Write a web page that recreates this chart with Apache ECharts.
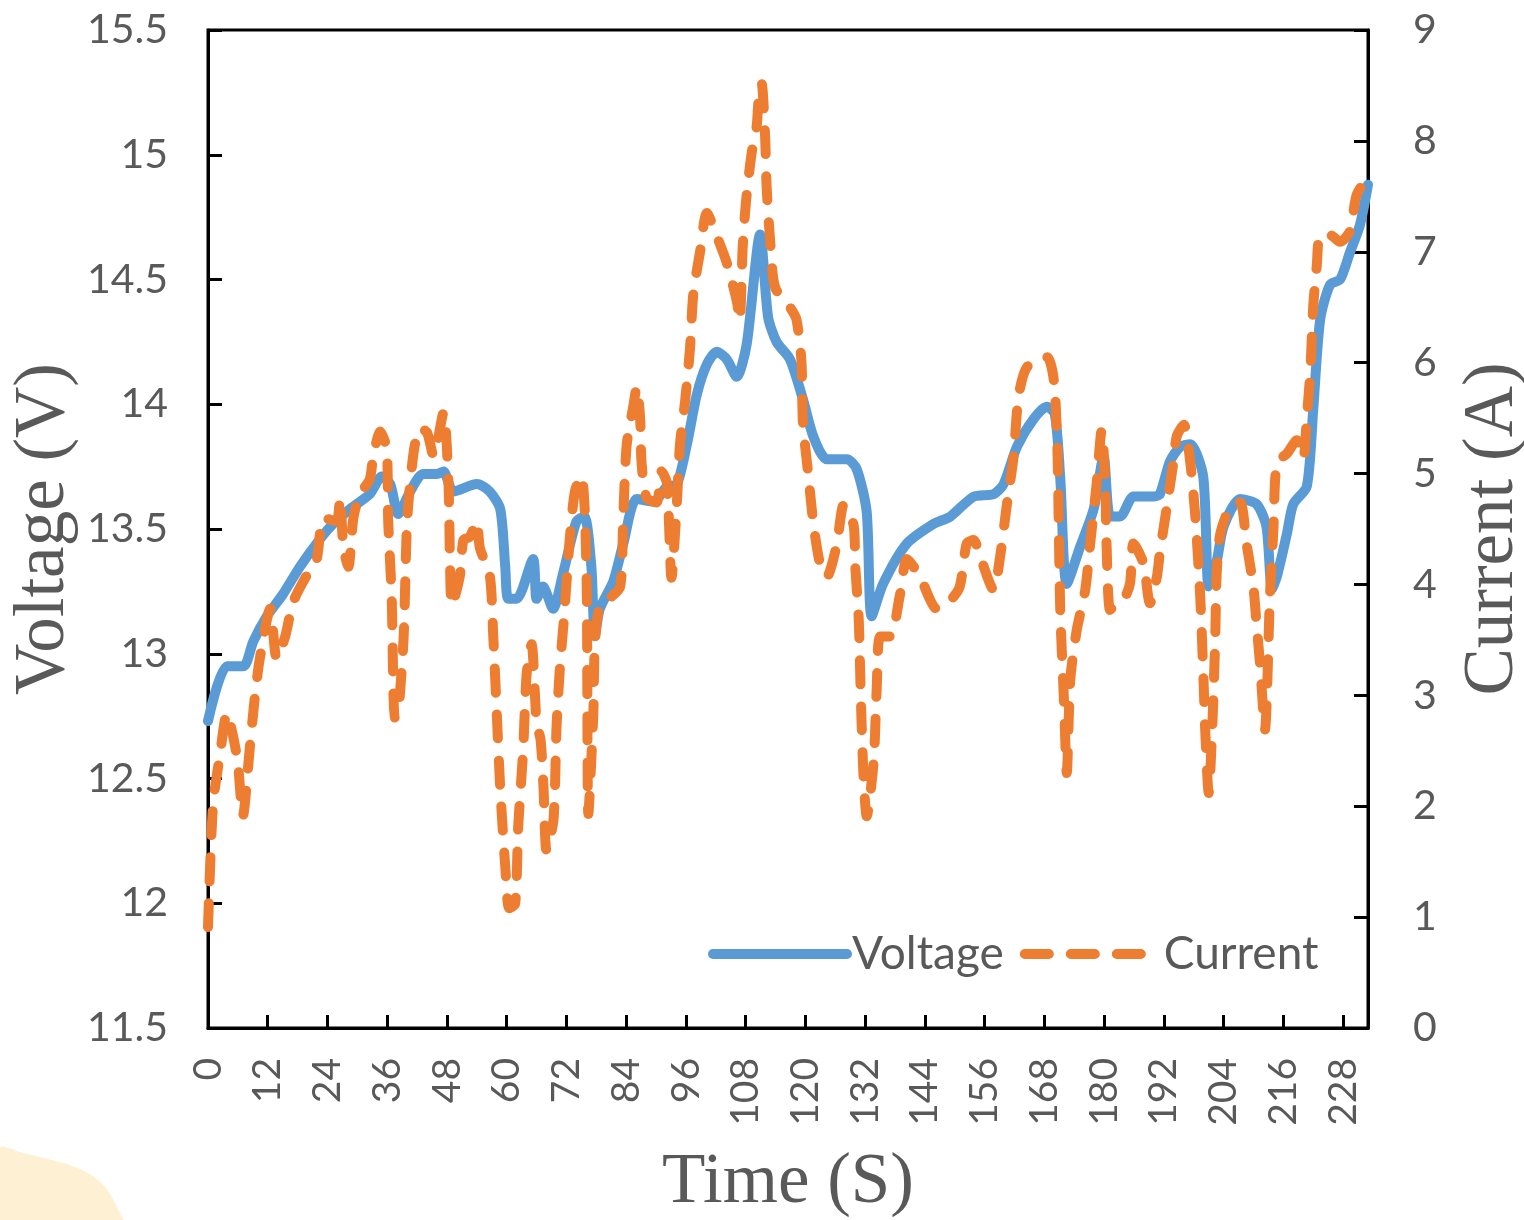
<!DOCTYPE html>
<html>
<head>
<meta charset="utf-8">
<script src="https://cdn.jsdelivr.net/npm/echarts@6/dist/echarts.min.js"></script>
<style>
html,body{margin:0;padding:0;background:#fff;}
#chart{width:1524px;height:1220px;}
</style>
</head>
<body>
<div id="chart"></div>
<script>
// ---- Data ----
const voltageTime = [0,3.8,7.1,9.1,11.8,15.1,18.5,22.5,25.1,28.5,32.5,34.9,36.6,38.2,40.6,43.2,46,47.3,49.3,54,56.6,58.7,59.7,60.3,62,65.3,66,67.3,69.3,71.3,74,75.6,77,77.7,78.7,81.4,83.4,86.1,89.5,92.2,94.2,96.2,98.2,100.2,102.2,104.2,106.2,108.2,110.9,112.5,114.2,116.9,119.5,121.6,124.3,128.3,130.3,132.3,133.3,135.6,140.3,145.7,149.1,153.8,157.8,159.8,162.5,165.8,168.5,170.1,171.2,172.5,175.2,177.9,179.9,181.2,183.2,185.9,189.9,191.2,193.2,195.3,197.3,199.9,201,202.6,204,207.3,210.6,212.6,213.7,214.7,216.7,218,220.7,222,223.4,225.4,227.4,229.4,231.4,233];
const voltage = [12.73,12.95,12.95,13.05,13.15,13.24,13.35,13.46,13.52,13.58,13.64,13.71,13.68,13.56,13.65,13.72,13.72,13.73,13.65,13.68,13.65,13.58,13.35,13.22,13.22,13.38,13.22,13.27,13.18,13.32,13.53,13.55,13.35,13.07,13.18,13.29,13.44,13.62,13.61,13.67,13.68,13.84,14.04,14.16,14.21,14.18,14.11,14.24,14.68,14.35,14.25,14.18,14.02,13.87,13.78,13.78,13.74,13.57,13.15,13.28,13.44,13.52,13.55,13.63,13.64,13.68,13.83,13.94,13.99,13.96,13.70,13.28,13.43,13.58,13.79,13.55,13.55,13.63,13.63,13.64,13.77,13.83,13.84,13.71,13.27,13.37,13.51,13.62,13.60,13.51,13.26,13.31,13.48,13.60,13.67,13.98,14.34,14.48,14.50,14.61,14.72,14.88];

const currentTime = [0,1,2.4,3.8,5,6,7,8.4,9.4,10.4,12.5,13.8,15.5,17.1,19.8,21.8,23.2,25.8,26.5,27.2,28.2,29.2,30.5,32.5,33.2,34.6,35.9,36.2,36.9,37.5,38.2,39.3,40,41.3,42.6,44,45.3,47.3,48.3,48.6,49,50.6,51.3,52.6,54,54.6,56.6,57.3,58,58.7,59.7,60.5,61.7,62.3,63.3,64,65,66,66.8,67.4,68,69.4,70,70.7,71.4,72.7,73.7,75,75.7,76.1,76.4,77.4,77.7,78.7,80.8,82.8,83.4,84.1,85.4,86.1,86.8,87.1,88.1,90.1,91.1,92.2,93.1,94.1,94.8,95.8,96.8,97.5,98.8,100.2,102.2,104.2,106.2,106.8,107.4,108.1,109.2,110.2,110.6,111.2,111.9,112.2,112.9,113.9,116.9,118.2,119.2,119.5,120.6,121.6,123,124.3,126.3,127.7,129.7,130,130.7,131,131.3,131.7,132.3,133.7,134.3,135,137,139,140.4,143,146.4,149,151,152.4,153.8,155.1,157.8,159.1,160.4,161.8,162.8,164.5,168.5,169.9,170.6,170.9,171.2,171.9,172.5,173.2,174.5,176.2,177.2,178.5,179.5,180.2,180.5,181.2,182.5,183.9,185.2,185.9,187.9,189.2,190.6,191.2,192.6,193.9,194.6,196,197.3,198.3,199.3,200,200.3,201,201.7,202.3,202.6,203.3,205.3,207.3,208.6,210,210.6,211.3,212.3,213.3,214,214.7,216.7,218.7,220,220.7,221.4,222,222.7,223.4,225.4,227.4,229.4,230.7,233];
const current = [0.91,2.01,2.46,2.84,2.64,2.39,1.91,2.53,2.98,3.33,3.78,3.33,3.53,3.84,4.08,4.22,4.60,4.57,4.78,4.33,4.16,4.60,4.81,4.95,5.16,5.38,5.22,4.57,3.88,2.80,2.84,3.53,4.57,5.19,5.41,5.37,5.16,5.55,4.91,4.22,3.81,4.08,4.40,4.43,4.57,4.33,4.08,3.53,2.84,2.16,1.46,1.08,1.12,1.81,2.50,3.19,3.46,2.75,2.60,2.16,1.60,1.88,2.71,3.26,3.64,4.43,4.84,4.98,4.64,3.88,1.93,2.84,3.46,3.81,3.88,3.98,4.60,5.26,5.60,5.78,5.50,5.09,4.78,4.74,5.02,4.91,4.06,4.67,5.26,5.64,6.12,6.63,6.99,7.35,7.14,6.90,6.56,6.38,7.04,7.47,7.89,8.13,8.37,8.52,8.04,7.59,7.11,6.68,6.50,6.39,6.01,5.46,4.98,4.55,4.17,4.07,4.36,4.72,4.53,4.17,3.69,3.20,2.72,2.24,1.91,2.40,3.04,3.53,3.53,3.91,4.23,4.07,3.78,3.85,3.98,4.37,4.40,4.25,3.95,4.25,4.70,5.15,5.69,5.96,6.05,5.84,5.24,4.49,3.74,2.99,2.30,3.14,3.59,3.95,4.37,4.91,5.39,4.94,4.34,3.77,3.83,3.86,4.01,4.37,4.19,3.83,4.07,4.29,4.70,5.10,5.34,5.44,5.10,4.62,3.89,3.09,2.69,2.12,2.69,3.49,4.09,4.45,4.70,4.74,4.37,3.97,3.65,3.29,2.69,3.89,4.50,5.10,5.18,5.30,5.14,5.50,5.91,6.51,6.87,7.15,7.15,7.09,7.19,7.51,7.68];

const seriesNames = ['Voltage', 'Current'];
const xTitle = 'Time (S)';
const yLeftTitle = 'Voltage (V)';
const yRightTitle = 'Current (A)';

// ---- Chart ----
const pair = (xs, ys) => xs.map((x, i) => [x, ys[i]]);
const chart = echarts.init(document.getElementById('chart'), null, {renderer: 'canvas'});
const labelFont = 'Lato, "Open Sans", sans-serif';
const titleFont = '"Liberation Serif", "DejaVu Serif", serif';
const gray = '#595959';
const blue = '#5B9BD5';
const orange = '#ED7D31';
const dash = [24, 22];

const option = {
  backgroundColor: '#ffffff',
  animation: false,
  graphic: [{
    type: 'polygon',
    z: -10,
    shape: {points: [[0,1148],[20,1152],[40,1157],[60,1162],[75,1167],[88,1173],[98,1180],[106,1188],[112,1197],[117,1207],[121,1215],[123,1220],[0,1220]], smooth: 0.3},
    style: {fill: '#fef1d3'}
  }],
  grid: {left: 208, right: 156, top: 30, bottom: 192, outerBoundsMode: 'none', containLabel: false,
    show: true, borderColor: '#000', borderWidth: 3, backgroundColor: 'transparent'},
  legend: {
    data: [
      {name: seriesNames[0], itemStyle: {opacity: 0}, lineStyle: {width: 10, type: 'solid', color: blue, cap: 'round'}},
      {name: seriesNames[1], itemStyle: {opacity: 0}, lineStyle: {width: 10, type: dash, color: orange, cap: 'round'}}
    ],
    left: 703, top: 926,
    itemWidth: 134, itemHeight: 12, itemGap: 16,
    textStyle: {fontFamily: labelFont, fontSize: 46, color: gray}
  },
  xAxis: {
    type: 'value', min: 0, max: 233, interval: 12,
    name: xTitle, nameLocation: 'middle', nameGap: 120, nameMoveOverlap: false,
    nameTextStyle: {fontFamily: titleFont, fontSize: 71, color: gray},
    axisLine: {lineStyle: {color: '#000', width: 3}},
    axisTick: {inside: true, length: 13, lineStyle: {color: '#000', width: 3}},
    axisLabel: {rotate: 90, margin: 30, fontFamily: labelFont, fontSize: 39, color: gray, showMaxLabel: false,
      formatter: v => (v % 12 === 0 ? String(v) : '')},
    splitLine: {show: false}
  },
  yAxis: [{
    type: 'value', min: 11.5, max: 15.5, interval: 0.5, position: 'left',
    name: yLeftTitle, nameLocation: 'middle', nameGap: 128, nameRotate: 90, nameMoveOverlap: false,
    nameTextStyle: {fontFamily: titleFont, fontSize: 71, color: gray},
    axisLine: {show: true, lineStyle: {color: '#000', width: 3}},
    axisTick: {show: true, inside: true, length: 14, lineStyle: {color: '#000', width: 3}},
    axisLabel: {margin: 40, fontFamily: labelFont, fontSize: 41, color: gray},
    splitLine: {show: false}
  }, {
    type: 'value', min: 0, max: 9, interval: 1, position: 'right',
    name: yRightTitle, nameLocation: 'middle', nameGap: 90, nameRotate: 90, nameMoveOverlap: false,
    nameTextStyle: {fontFamily: titleFont, fontSize: 71, color: gray},
    axisLine: {show: true, lineStyle: {color: '#000', width: 3}},
    axisTick: {show: true, inside: true, length: 14, lineStyle: {color: '#000', width: 3}},
    axisLabel: {margin: 45, fontFamily: labelFont, fontSize: 41, color: gray},
    splitLine: {show: false}
  }],
  series: [{
    name: seriesNames[0], type: 'line', yAxisIndex: 0,
    data: pair(voltageTime, voltage),
    showSymbol: false, symbol: 'none', smooth: 0.25,
    color: blue,
    lineStyle: {color: blue, width: 10, cap: 'round', join: 'round'}
  }, {
    name: seriesNames[1], type: 'line', yAxisIndex: 1,
    data: pair(currentTime, current),
    showSymbol: false, symbol: 'none', smooth: 0.25,
    color: orange,
    lineStyle: {color: orange, width: 10, type: dash, cap: 'round', join: 'round'}
  }]
};
chart.setOption(option);
</script>
</body>
</html>
